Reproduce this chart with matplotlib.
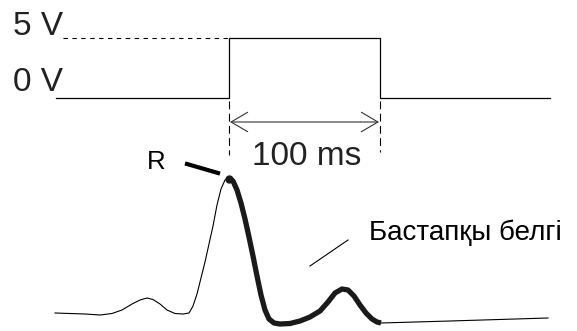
import numpy as np
import matplotlib.pyplot as plt
from matplotlib.patches import FancyArrowPatch

plt.rcParams['font.family'] = ['Liberation Sans', 'DejaVu Sans']

# Pulse trace (pixel coordinates of the drawing)
pulse_x = [56, 229, 229, 380, 380, 550]
pulse_y = [98, 98, 38, 38, 98, 98]

# ECG trace: thin part before R peak
ecg_pre_x = [55, 70, 85, 100, 112, 122, 132, 140, 147, 153, 160, 167, 175, 183, 189,
             193, 197, 201, 205, 209, 213, 217, 221, 225, 229]
ecg_pre_y = [313, 313.5, 314, 315, 313.5, 310, 304, 300, 298, 299.5, 304, 310, 313.5, 314, 313,
             306, 294, 278, 262, 244, 226, 205, 189, 180, 178]

# thick part (sensed segment) from R peak to the end of T wave
ecg_sense_x = [229, 233, 237, 241, 245, 249, 253, 257, 261, 265, 269, 274, 280, 290, 300,
               310, 320, 328, 335, 342, 348, 354, 360, 366, 372, 377, 381]
ecg_sense_y = [178, 181, 190, 203, 219, 237, 256, 276, 295, 310, 319, 323, 324, 323.5, 321,
               317, 311, 302, 293, 289, 290, 296, 305, 313, 319, 322, 323]

# thin tail after the sensed segment
ecg_post_x = [381, 450, 548]
ecg_post_y = [323, 321, 318]

fig = plt.figure(figsize=(5.77, 3.31), dpi=100)
ax = fig.add_axes([0, 0, 1, 1])
ax.set_xlim(0, 577)
ax.set_ylim(331, 0)
ax.axis('off')

# pulse
ax.plot(pulse_x, pulse_y, color='black', linewidth=0.9, solid_joinstyle='miter')
ax.plot([63, 229], [38, 38], color='black', linewidth=0.8, linestyle=(0, (4, 4)))

# 100 ms markers
ax.plot([229, 229], [101, 155], color='black', linewidth=0.8, linestyle=(0, (7, 4)))
ax.plot([380, 380], [101, 152], color='black', linewidth=0.8, linestyle=(0, (7, 4)))
arrow = FancyArrowPatch((230, 122), (379, 122), arrowstyle='<->,head_length=0.85,head_width=0.5',
                        mutation_scale=14, color='#333333', linewidth=0.8, shrinkA=0, shrinkB=0)
ax.add_patch(arrow)

# ECG
ax.plot(ecg_pre_x, ecg_pre_y, color='black', linewidth=0.8)
ax.plot(ecg_sense_x, ecg_sense_y, color='#1a1a1a', linewidth=3.8, solid_capstyle='butt')
ax.plot([229], [179], 'o', color='#1a1a1a', markersize=5)
ax.plot(ecg_post_x, ecg_post_y, color='black', linewidth=0.8)

# pointers
ax.plot([187, 218], [164, 173], color='black', linewidth=3.0)
ax.plot([310, 348], [266, 240], color='black', linewidth=0.8)

# labels
fs = 24
ax.text(13, 35, '5 V', fontsize=fs, va='baseline', ha='left', color='#222222')
ax.text(13, 91, '0 V', fontsize=fs, va='baseline', ha='left', color='#222222')
ax.text(252, 165, '100 ms', fontsize=fs, va='baseline', ha='left', color='#222222')
ax.text(147, 169, 'R', fontsize=18.5, va='baseline', ha='left', color='black')
ax.text(369, 240, 'Бастапқы белгі', fontsize=20, va='baseline', ha='left', color='black')

fig.savefig('out.png', dpi=100)
